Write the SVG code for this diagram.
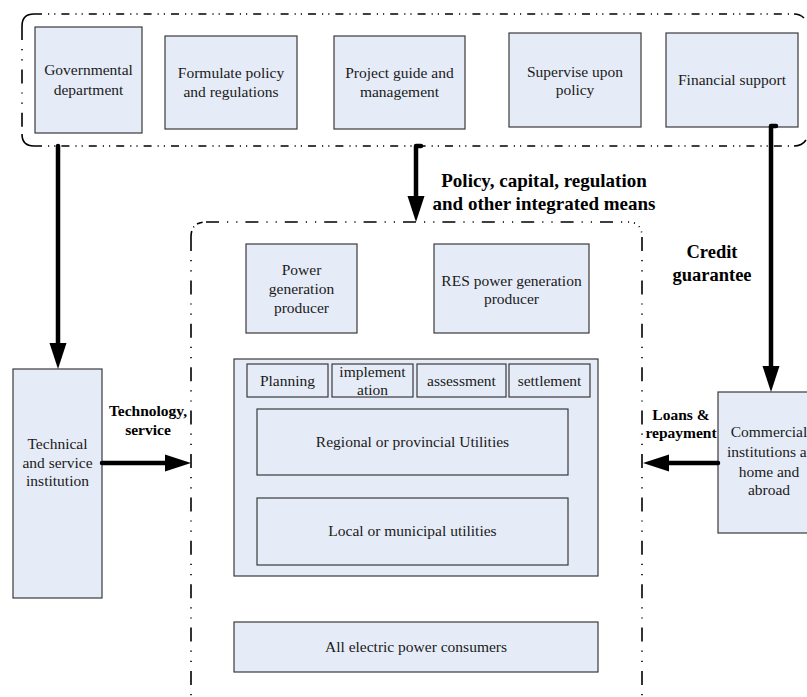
<svg xmlns="http://www.w3.org/2000/svg" width="807" height="697" viewBox="0 0 807 697" font-family="Liberation Serif, Times New Roman, serif">
  <style>
    .box { fill: #e6ecf7; stroke: #3a3a3a; stroke-width: 1.2; }
    .sub { fill: #e6ecf7; stroke: #3a3a3a; stroke-width: 1.2; }
    .t { font-size: 15.5px; fill: #1a1a1a; text-anchor: middle; }
    .lb { font-weight: bold; fill: #000; text-anchor: middle; }
    .fh { fill: none; stroke: #000; stroke-width: 1.6; stroke-dasharray: 8 6 1.2 5 1.2 6; }
    .fv { fill: none; stroke: #000; stroke-width: 1.6; stroke-dasharray: 14 9 1.2 9 1.2 9; }
    .fc { fill: none; stroke: #000; stroke-width: 1.6; }
    .conn { fill: none; stroke: #000; stroke-width: 4.5; stroke-linecap: round; stroke-linejoin: round; }
    .head { fill: #000; }
  </style>

  <!-- dash-dot frames -->
  <g id="frames">
    <!-- government frame -->
    <path class="fh" d="M34 14 H794"/>
    <path class="fh" d="M34 146 H794"/>
    <path class="fv" d="M22 26 V134"/>
    <path class="fc" d="M22 26 Q22 14 34 14"/>
    <path class="fc" d="M22 134 Q22 146 34 146"/>
    <path class="fc" d="M794 146 Q802 146 806 140"/>
    <path class="fc" d="M794 14 Q800 14 804 18"/>
    <!-- power industry frame -->
    <path class="fh" d="M206 222 H628" style="stroke-dasharray: 13 8 1.2 8 1.2 8"/>
    <path class="fv" d="M191 237 V697"/>
    <path class="fv" d="M642 237 V697"/>
    <path class="fc" d="M191 237 Q191 222 206 222" style="stroke-dasharray: 6 4 1 4"/>
    <path class="fc" d="M628 222 Q642 222 642 237" style="stroke-dasharray: 1 5"/>
  </g>

  <!-- government layer -->
  <g id="governmental-department">
    <rect class="box" x="35" y="27" width="107" height="106"/>
    <text class="t" x="88.5" y="75">Governmental</text>
    <text class="t" x="88.5" y="95">department</text>
  </g>
  <g id="formulate-policy">
    <rect class="box" x="165" y="36" width="132" height="93"/>
    <text class="t" x="231" y="78">Formulate policy</text>
    <text class="t" x="231" y="97">and regulations</text>
  </g>
  <g id="project-guide">
    <rect class="box" x="334" y="36" width="131" height="93"/>
    <text class="t" x="399.5" y="78">Project guide and</text>
    <text class="t" x="399.5" y="97">management</text>
  </g>
  <g id="supervise-policy">
    <rect class="box" x="509" y="33" width="132" height="94"/>
    <text class="t" x="575" y="77">Supervise upon</text>
    <text class="t" x="575" y="95">policy</text>
  </g>
  <g id="financial-support">
    <rect class="box" x="666" y="33" width="132" height="94"/>
    <text class="t" x="732" y="85">Financial support</text>
  </g>

  <!-- side institutions -->
  <g id="technical-service">
    <rect class="box" x="13" y="369" width="89" height="229"/>
    <text class="t" x="57.5" y="449">Technical</text>
    <text class="t" x="57.5" y="468">and service</text>
    <text class="t" x="57.5" y="486">institution</text>
  </g>
  <g id="commercial-institutions">
    <rect class="box" x="718" y="392" width="100" height="141"/>
    <text class="t" x="769" y="437">Commercial</text>
    <text class="t" x="769" y="457">institutions at</text>
    <text class="t" x="769" y="477">home and</text>
    <text class="t" x="769" y="495">abroad</text>
  </g>

  <!-- power industry -->
  <g id="power-generation-producer">
    <rect class="box" x="246" y="244" width="111" height="89"/>
    <text class="t" x="301.5" y="275">Power</text>
    <text class="t" x="301.5" y="294">generation</text>
    <text class="t" x="301.5" y="313">producer</text>
  </g>
  <g id="res-producer">
    <rect class="box" x="434" y="244" width="155" height="89"/>
    <text class="t" x="511.5" y="286">RES power generation</text>
    <text class="t" x="511.5" y="304">producer</text>
  </g>
  <g id="utilities">
    <rect class="box" x="234" y="359" width="364" height="217"/>
    <g id="planning">
      <rect class="sub" x="247" y="364" width="81" height="33"/>
      <text class="t" x="287.5" y="386">Planning</text>
    </g>
    <g id="implementation">
      <rect class="sub" x="332" y="364" width="81" height="33"/>
      <text class="t" x="372.5" y="377">implement</text>
      <text class="t" x="372.5" y="395">ation</text>
    </g>
    <g id="assessment">
      <rect class="sub" x="417" y="364" width="89" height="33"/>
      <text class="t" x="461.5" y="386">assessment</text>
    </g>
    <g id="settlement">
      <rect class="sub" x="509" y="364" width="81" height="33"/>
      <text class="t" x="549.5" y="386">settlement</text>
    </g>
    <g id="regional-utilities">
      <rect class="sub" x="257" y="409" width="311" height="66"/>
      <text class="t" x="412.5" y="447">Regional or provincial Utilities</text>
    </g>
    <g id="local-utilities">
      <rect class="sub" x="257" y="498" width="311" height="67"/>
      <text class="t" x="412.5" y="536">Local or municipal utilities</text>
    </g>
  </g>
  <g id="power-consumers">
    <rect class="box" x="234" y="622" width="364" height="50"/>
    <text class="t" x="416" y="652">All electric power consumers</text>
  </g>

  <!-- connectors -->
  <g id="connectors">
    <path class="conn" d="M58 146 V346"/>
    <polygon class="head" points="49.5,343 66.5,343 58,369"/>

    <path class="conn" d="M421 146 H416 V198"/>
    <polygon class="head" points="407.5,196 424.5,196 416,222"/>

    <path class="conn" d="M776 126 H771 V368"/>
    <polygon class="head" points="762.5,366 779.5,366 771,392"/>

    <path class="conn" d="M102 463 H168"/>
    <polygon class="head" points="165,454.5 165,471.5 191,463"/>

    <path class="conn" d="M718 463 H666"/>
    <polygon class="head" points="669,454.5 669,471.5 643,463"/>
  </g>

  <!-- connector labels -->
  <g id="labels">
    <text class="lb" x="544" y="187" font-size="19">Policy, capital, regulation</text>
    <text class="lb" x="544" y="210" font-size="19">and other integrated means</text>
    <text class="lb" x="712" y="258" font-size="18.5">Credit</text>
    <text class="lb" x="712" y="281" font-size="18.5">guarantee</text>
    <text class="lb" x="148" y="416" font-size="15.5">Technology,</text>
    <text class="lb" x="148" y="435" font-size="15.5">service</text>
    <text class="lb" x="681" y="420" font-size="15.5">Loans &amp;</text>
    <text class="lb" x="681" y="438" font-size="15.5">repayment</text>
  </g>
</svg>
